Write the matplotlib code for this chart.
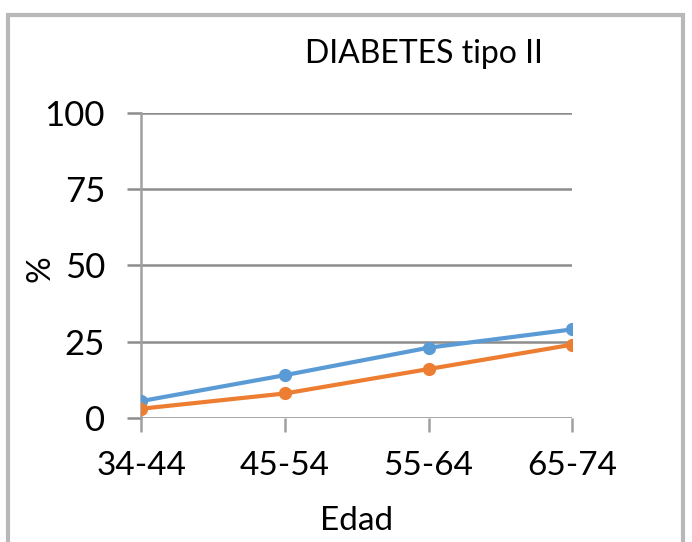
import matplotlib.pyplot as plt
from matplotlib.patches import Rectangle

plt.rcParams['font.family'] = ['Lato', 'DejaVu Sans']

edades = ["34-44", "45-54", "55-64", "65-74"]
serie_azul = [5.5, 14, 23, 29]
serie_naranja = [3, 8, 16, 24]
yticks = [0, 25, 50, 75, 100]

fig = plt.figure(figsize=(6.92, 5.42), dpi=100)
ax = fig.add_axes([0.204, 0.229, 0.623, 0.563])

# marco del gráfico
fig.patches.append(Rectangle((0.012, -0.02), 0.975, 0.993, transform=fig.transFigure,
                             fill=False, edgecolor='#b8b8b8', linewidth=3, zorder=0))

x = range(len(edades))
ax.plot(x, serie_azul, color='#5b9bd5', linewidth=3, marker='o', markersize=8.5, zorder=3)
ax.plot(x, serie_naranja, color='#ed7d31', linewidth=3, marker='o', markersize=8.5, zorder=3)

ax.set_xlim(0, 3)
ax.set_ylim(0, 100)
ax.set_xticks(list(x))
ax.set_xticklabels(edades, fontsize=24)
ax.set_yticks(yticks)
ax.set_yticklabels([str(v) for v in yticks], fontsize=25)

ax.grid(axis='y', color='#8c8c8c', linewidth=1.8)
ax.set_axisbelow(True)
for s in ['top', 'right', 'bottom']:
    ax.spines[s].set_visible(False)
ax.spines['left'].set_color('#a0a0a0')
ax.spines['left'].set_linewidth(1.8)
ax.tick_params(axis='y', length=10, width=1.8, color='#8c8c8c', pad=16)
ax.tick_params(axis='x', length=10, width=1.8, color='#a0a0a0', pad=14)

ax.set_xlabel('Edad', fontsize=24, labelpad=18)
fig.text(0.058, 0.505, '%', fontsize=24, rotation=90, ha='center', va='center')
fig.text(0.612, 0.9, 'DIABETES tipo II', fontsize=23, ha='center', va='center')

fig.savefig('out.png', dpi=100)
